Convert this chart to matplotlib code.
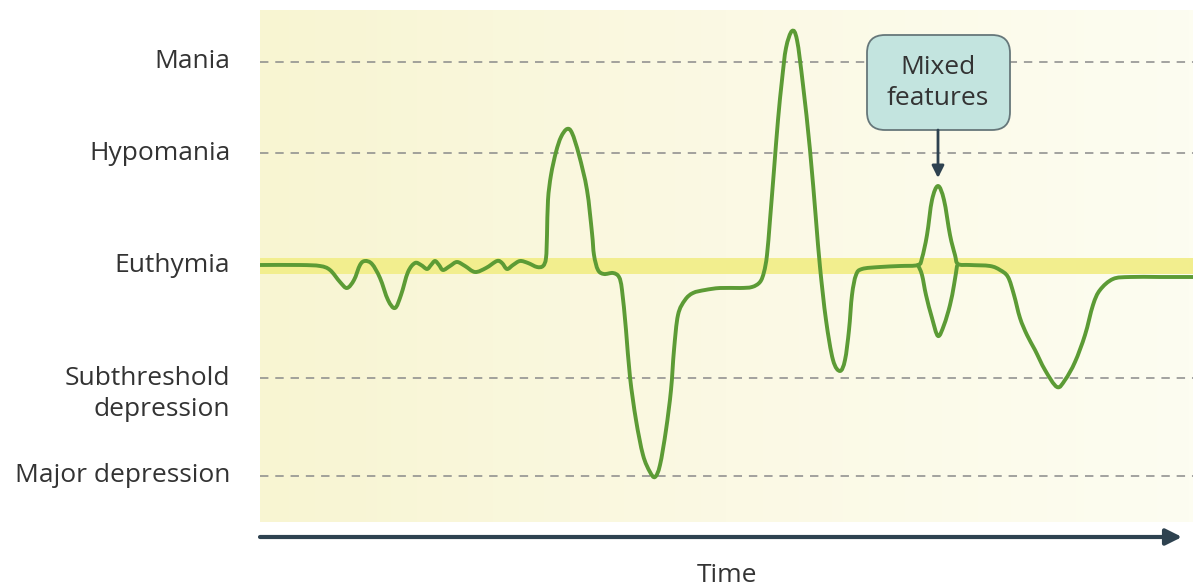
import matplotlib

matplotlib.use("Agg")
import matplotlib.pyplot as plt  # noqa: E402
import numpy as np  # noqa: E402
from matplotlib import transforms  # noqa: E402
from matplotlib.colors import LinearSegmentedColormap  # noqa: E402
from matplotlib.patches import FancyArrowPatch, FancyBboxPatch, PathPatch  # noqa: E402
from matplotlib.path import Path  # noqa: E402

plt.rcParams["font.family"] = ["Open Sans", "DejaVu Sans"]

# ── data (mood score in arbitrary units, 0 = euthymia) ───────────────────────
level_names = ["Mania", "Hypomania", "Euthymia", "Subthreshold\ndepression", "Major depression"]
level_values = [204, 113, 0, -112, -210]

time = [0, 40, 60, 70, 80, 87, 94, 100, 105, 112, 120, 128, 135, 141, 148, 155, 161, 167,
        171, 175, 179, 183, 190, 197, 205, 215, 226, 237, 242, 247, 253, 260, 268, 277,
        283, 286, 287, 288, 291, 296, 301, 307, 312, 319, 327, 332, 334, 338, 344, 353,
        359, 362, 366, 370, 376, 383, 390, 395, 400, 406, 411, 414, 418, 425, 433, 445,
        460, 480, 492, 500, 504, 507, 510, 514, 518, 522, 526, 532, 537, 543, 550, 556,
        560, 566, 573, 580, 585, 589, 592, 596, 602, 620, 640, 658, 662, 667, 672, 678,
        684, 690, 695, 698, 710, 730, 740, 748, 754, 760, 767, 775, 785, 797, 805, 815,
        825, 833, 840, 853, 870, 900, 933]
mood = [1, 1, 0, -4, -16, -22, -14, 1, 5, 2, -12, -34, -42, -29, -6, 3, 1, -3,
        1, 5, 1, -4, 0, 4, 0, -6, -2, 5, 3, -3, 1, 5, 3, -1,
        0, 8, 31, 66, 91, 114, 129, 137, 133, 111, 76, 33, 11, -4, -8, -7,
        -11, -24, -64, -111, -154, -189, -206, -211, -199, -164, -124, -84, -49, -34, -27, -24,
        -22, -22, -21, -16, -6, 11, 46, 96, 146, 186, 218, 235, 226, 181, 116, 46,
        -1, -54, -94, -105, -94, -64, -29, -9, -3, -1, 0, 1, 8, 31, 66, 80,
        66, 31, 11, 2, 1, 0, -4, -11, -29, -52, -69, -84, -104, -121, -114, -96,
        -69, -39, -24, -13, -11, -11, -11]

# mixed-features episode: depressive branch running alongside the hypomanic one
mixed_time = [658, 662, 666, 672, 678, 684, 690, 694, 697]
mixed_mood = [1, -9, -29, -52, -70, -59, -39, -19, 0]

GREEN = "#5c9b35"
DARK = "#2e4250"
TEXT = "#333333"


def smooth_path(xs, ys):
    # Catmull-Rom through the given points, drawn as cubic Bezier segments
    p = np.column_stack([xs, ys]).astype(float)
    p = np.vstack([p[0], p, p[-1]])
    verts = [p[1]]
    codes = [Path.MOVETO]
    for i in range(1, len(p) - 2):
        c1 = p[i] + (p[i + 1] - p[i - 1]) / 6
        c2 = p[i + 1] - (p[i + 2] - p[i]) / 6
        verts += [c1, c2, p[i + 1]]
        codes += [Path.CURVE4] * 3
    return Path(verts, codes)


fig = plt.figure(figsize=(11.93, 5.86), dpi=100)
ax = fig.add_axes([260 / 1193, 64 / 586, 933 / 1193, 512 / 586])
ax.set_xlim(0, 933)
ax.set_ylim(-256, 256)
ax.axis("off")

# warm background gradient
grad = np.linspace(0, 1, 256)[None, :]
cmap = LinearSegmentedColormap.from_list("bg", ["#f8f5d2", "#fbf9e4", "#fdfdf1"])
ax.imshow(grad, extent=[0, 933, -256, 256], aspect="auto", cmap=cmap, zorder=0)

# euthymia band
ax.axhspan(-8, 8, color="#f2ee8e", zorder=1, lw=0)

# dashed level lines
for v in level_values:
    if v != 0:
        ax.axhline(v, color="#8a8a8a", lw=1.1, ls=(0, (5.5, 4.5)), zorder=1)

# level labels
trans = transforms.blended_transform_factory(ax.transAxes, ax.transData)
for name, v in zip(level_names, level_values):
    y = v - 16 if "\n" in name else v
    ax.text(-0.032, y, name, transform=trans, ha="right", va="center",
            fontsize=19, color=TEXT, linespacing=1.35, clip_on=False)

# mood curve
for xs, ys in [(time, mood), (mixed_time, mixed_mood)]:
    ax.add_patch(PathPatch(smooth_path(xs, ys), fc="none", ec=GREEN, lw=2.8,
                           joinstyle="round", capstyle="round", zorder=3))

# "Mixed features" call-out
box = FancyBboxPatch((607, 136), 143, 95, boxstyle="round,pad=0,rounding_size=18",
                     fc="#c3e4df", ec="#66777a", lw=1.3, zorder=4, clip_on=False)
ax.add_patch(box)
ax.text(678, 183, "Mixed\nfeatures", ha="center", va="center", fontsize=19,
        color=TEXT, linespacing=1.32, zorder=5)
ax.annotate("", xy=(678, 88), xytext=(678, 136),
            arrowprops=dict(arrowstyle="-|>", color=DARK, lw=2, mutation_scale=18,
                            shrinkA=0, shrinkB=0), zorder=5)

# time axis
fig.patches.append(FancyArrowPatch(
    (260 / 1193, 49 / 586), (1182 / 1193, 49 / 586), transform=fig.transFigure,
    arrowstyle="-|>", mutation_scale=24, color=DARK, lw=3, shrinkA=0, shrinkB=0))
fig.text(727 / 1193, 11 / 586, "Time", ha="center", va="center", fontsize=19, color=TEXT)

fig.savefig("out.png", dpi=100)
